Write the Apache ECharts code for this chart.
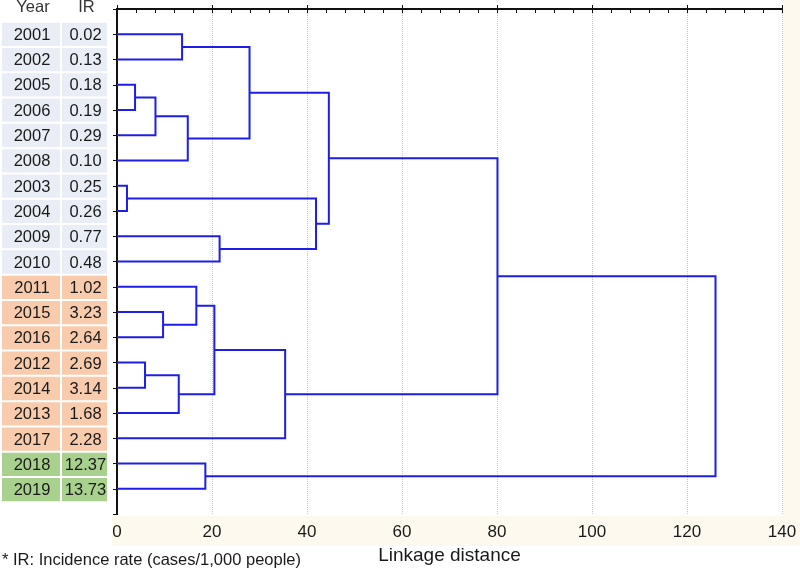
<!DOCTYPE html>
<html>
<head>
<meta charset="utf-8">
<script src="https://cdn.jsdelivr.net/npm/echarts@6/dist/echarts.min.js"></script>
<style>
html,body{margin:0;padding:0;background:#fff;}
#chart{width:800px;height:570px;}
</style>
</head>
<body>
<div id="chart"></div>
<script>
// Leaf order (top to bottom) as in the dendrogram
const years = ['2001','2002','2005','2006','2007','2008','2003','2004','2009','2010',
               '2011','2015','2016','2012','2014','2013','2017','2018','2019'];
// Incidence rate (cases/1,000 people)
const irValues = ['0.02','0.13','0.18','0.19','0.29','0.10','0.25','0.26','0.77','0.48',
                  '1.02','3.23','2.64','2.69','3.14','1.68','2.28','12.37','13.73'];
// Table colour group of each leaf
const groups = [0,0,0,0,0,0,0,0,0,0, 1,1,1,1,1,1,1, 2,2];
const groupColors = ['#E9EDF5','#F8CBAD','#A9D18E'];
// Merges: [node A, node B, linkage distance]; leaves are 0..18, new nodes numbered from 19
const merges = [
  [0, 1, 13.7],
  [2, 3, 3.8],
  [20, 4, 8.1],
  [21, 5, 14.9],
  [19, 22, 27.9],
  [6, 7, 2.1],
  [8, 9, 21.6],
  [24, 25, 41.9],
  [23, 26, 44.6],
  [11, 12, 9.7],
  [10, 28, 16.7],
  [13, 14, 5.9],
  [30, 15, 13.0],
  [29, 31, 20.5],
  [32, 16, 35.4],
  [27, 33, 80.1],
  [17, 18, 18.6],
  [34, 35, 126.0]
];
const xTicks = [0, 20, 40, 60, 80, 100, 120, 140];

// node positions: leaves at 1..n, merged nodes at midpoint of children
const nodePos = years.map((_, i) => i + 1);
const nodeH = years.map(() => 0);
const linkData = [];
merges.forEach(m => {
  const [a, b, h] = m;
  linkData.push([nodeH[a], nodePos[a], nodeH[b], nodePos[b], h]);
  nodePos.push((nodePos[a] + nodePos[b]) / 2);
  nodeH.push(h);
});
const tableData = years.map((y, i) => [i + 1, groups[i]]);

const FONT = 'Liberation Sans, Arial, sans-serif';
const chart = echarts.init(document.getElementById('chart'), null, {renderer: 'canvas'});
const option = {
  animation: false,
  backgroundColor: '#ffffff',
  textStyle: {fontFamily: FONT},
  title: {
    text: '* IR: Incidence rate (cases/1,000 people)',
    left: 0, top: 552,
    padding: [0, 0, 0, 2],
    textStyle: {fontFamily: FONT, fontSize: 16.5, fontWeight: 'normal', color: '#1a1a1a'}
  },
  graphic: [
    {type: 'rect', z: -10, silent: true, shape: {x: 783, y: 0, width: 17, height: 546}, style: {fill: '#FDF9EF'}},
    {type: 'rect', z: -10, silent: true, shape: {x: 112, y: 516, width: 688, height: 30}, style: {fill: '#FDF9EF'}}
  ],
  grid: [
    {left: 117, right: 18, top: 9, bottom: 55, show: true, backgroundColor: '#ffffff', borderWidth: 0},
    {left: 0, width: 110, top: 9, bottom: 55}
  ],
  xAxis: [
    {
      type: 'value', gridIndex: 0, position: 'bottom', min: 0, max: 140, interval: 20,
      axisLine: {show: true, lineStyle: {color: '#111', width: 2}},
      axisTick: {show: true, inside: true, length: 4, lineStyle: {color: '#111'}},
      axisLabel: {show: true, fontSize: 17, color: '#1a1a1a', margin: 10, fontFamily: FONT,
                  formatter: v => xTicks.indexOf(v) >= 0 ? String(v) : ''},
      splitLine: {show: true, lineStyle: {color: '#c8c8c8', type: 'dotted', width: 1}},
      name: 'Linkage distance', nameLocation: 'middle', nameGap: 31,
      nameTextStyle: {fontSize: 19, color: '#1a1a1a', fontFamily: FONT}
    },
    {
      type: 'value', gridIndex: 0, position: 'top', min: 0, max: 140, interval: 4,
      axisLine: {show: true, lineStyle: {color: '#111', width: 2}},
      axisTick: {show: true, inside: true, length: 4, lineStyle: {color: '#111'}},
      axisLabel: {show: false}, splitLine: {show: false}
    },
    {type: 'value', gridIndex: 1, min: 0, max: 110, show: false}
  ],
  yAxis: [
    {
      type: 'value', gridIndex: 0, position: 'left', min: 0, max: 20, inverse: true, interval: 1,
      axisLine: {show: true, lineStyle: {color: '#111', width: 2}},
      axisTick: {show: false}, axisLabel: {show: false}, splitLine: {show: false}
    },
    {
      type: 'value', gridIndex: 0, position: 'right', min: 0, max: 20, inverse: true, interval: 1,
      axisLine: {show: true, lineStyle: {color: '#111', width: 2}},
      axisTick: {show: true, inside: true, length: 4, lineStyle: {color: '#111'}},
      axisLabel: {show: false}, splitLine: {show: false}
    },
    {type: 'value', gridIndex: 1, min: 0, max: 20, inverse: true, show: false}
  ],
  series: [
    {
      type: 'custom', xAxisIndex: 0, yAxisIndex: 0,
      data: linkData,
      encode: {x: [0, 2, 4], y: [1, 3]},
      renderItem: function (params, api) {
        const lh = api.value(0), ly = api.value(1), rh = api.value(2), ry = api.value(3), h = api.value(4);
        const pts = [api.coord([lh, ly]), api.coord([h, ly]), api.coord([h, ry]), api.coord([rh, ry])];
        return {type: 'polyline', shape: {points: pts},
                style: {stroke: '#1e1ee6', lineWidth: 2, fill: null}};
      },
      z: 5
    },
    {
      type: 'custom', xAxisIndex: 2, yAxisIndex: 2,
      data: tableData,
      encode: {x: [], y: [0]},
      renderItem: function (params, api) {
        const i = params.dataIndex;
        const pos = api.value(0);
        const g = api.value(1);
        const cy = api.coord([0, pos])[1];
        const rowH = api.size([0, 1])[1];
        const x0 = api.coord([2, pos])[0], x1 = api.coord([60, pos])[0];
        const x2 = api.coord([62, pos])[0], x3 = api.coord([107, pos])[0];
        const fill = groupColors[g];
        const children = [
          {type: 'rect', shape: {x: x0, y: cy - rowH / 2 + 1, width: x1 - x0, height: rowH - 2}, style: {fill: fill}},
          {type: 'rect', shape: {x: x2, y: cy - rowH / 2 + 1, width: x3 - x2, height: rowH - 2}, style: {fill: fill}},
          {type: 'text', x: (x0 + x1) / 2 + 1, y: cy + 1,
           style: {text: years[i], fill: '#1a1a1a', font: '16.5px ' + FONT, align: 'center', verticalAlign: 'middle'}},
          {type: 'text', x: (x2 + x3) / 2 + 1, y: cy + 1,
           style: {text: irValues[i], fill: '#1a1a1a', font: '16.5px ' + FONT, align: 'center', verticalAlign: 'middle'}}
        ];
        if (i === 0) {
          const hy = api.coord([0, 0])[1] - 2;
          children.push({type: 'text', x: (x0 + x1) / 2 + 2, y: hy,
            style: {text: 'Year', fill: '#333', font: '16.5px ' + FONT, align: 'center', verticalAlign: 'middle'}});
          children.push({type: 'text', x: (x2 + x3) / 2 + 2, y: hy,
            style: {text: 'IR', fill: '#333', font: '16.5px ' + FONT, align: 'center', verticalAlign: 'middle'}});
        }
        return {type: 'group', children: children};
      }
    }
  ]
};
chart.setOption(option);
</script>
</body>
</html>
